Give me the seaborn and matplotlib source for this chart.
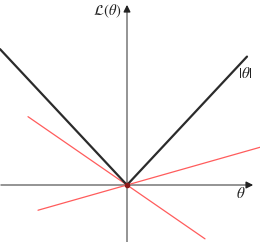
import numpy as np
import pandas as pd
import matplotlib
matplotlib.use("Agg")
import matplotlib.pyplot as plt
import seaborn as sns

# Data
theta_abs = [-1.27, 0.0, 1.2]          # |theta| curve knots
abs_vals = [abs(t) for t in theta_abs]
sub1_theta = [-0.99, 0.78]             # subgradient line 1
sub1_slope = -0.645
sub2_theta = [-0.89, 1.33]             # subgradient line 2
sub2_slope = 0.265

sns.set_style("white")
plt.rcParams['mathtext.fontset'] = 'stix'

fig = plt.figure(figsize=(2.6, 2.42), dpi=100)
ax = fig.add_axes([0, 0, 1, 1])
xlim = (-1.27, 1.33)
ylim = (-57/107, 185/107)
ax.set_xlim(*xlim)
ax.set_ylim(*ylim)
ax.axis('off')

axc = '#777777'
# axes lines with arrows
ax.plot([-1.26, 1.22], [0, 0], color=axc, lw=1.1, zorder=1)
ax.plot([0, 0], [ylim[0], 1.62], color=axc, lw=1.1, zorder=1)
ax.annotate('', xy=(1.29, 0), xytext=(1.2, 0),
            arrowprops=dict(arrowstyle='-|>', color='#222222', lw=1.0, mutation_scale=10))
ax.annotate('', xy=(0, 1.71), xytext=(0, 1.6),
            arrowprops=dict(arrowstyle='-|>', color='#222222', lw=1.0, mutation_scale=10))

df_abs = pd.DataFrame({'theta': theta_abs, 'L': abs_vals})
sns.lineplot(data=df_abs, x='theta', y='L', color='#2b2b2b', lw=1.6, ax=ax, zorder=3)

df1 = pd.DataFrame({'theta': sub1_theta, 'L': [sub1_slope * t for t in sub1_theta]})
df2 = pd.DataFrame({'theta': sub2_theta, 'L': [sub2_slope * t for t in sub2_theta]})
sns.lineplot(data=df1, x='theta', y='L', color='#ff5c5c', lw=0.9, ax=ax, zorder=2)
sns.lineplot(data=df2, x='theta', y='L', color='#ff5c5c', lw=0.9, ax=ax, zorder=2)
ax.plot([0], [0], 'o', color='#8b1a1a', ms=3, zorder=4)

def px(x, y):
    return (x - 127) / 100, (185 - y) / 107

ax.text(*px(121, 11), r'$\mathcal{L}(\theta)$', ha='right', va='center', fontsize=10.5, color='#222222')
ax.text(*px(245, 74), r'$|\theta|$', ha='center', va='center', fontsize=11, color='#222222')
ax.text(*px(241, 193), r'$\theta$', ha='center', va='center', fontsize=11, color='#222222')
ax.set_xlabel('')
ax.set_ylabel('')

fig.savefig('out.png', dpi=100)
